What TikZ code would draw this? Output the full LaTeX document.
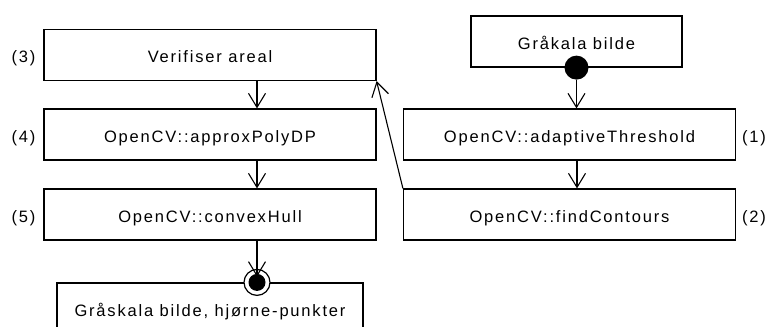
\documentclass[tikz,border=0pt]{standalone}
\usepackage{fontspec}
\setmainfont{Liberation Sans}[LetterSpace=11]
\usetikzlibrary{arrows.meta}
\begin{document}
\begin{tikzpicture}[x=1pt,y=-1pt,
  txt/.style={inner sep=0pt, font=\fontsize{16.5}{19}\selectfont,
              text height=15.5pt, text depth=0pt},
  box/.style={txt, draw, line width=1.2pt, minimum height=51pt},
  wide/.style={box, minimum width=332pt},
  flow/.style={line width=1.1pt, -{Straight Barb[length=14pt,width=17pt,line width=1.1pt]}}]
\clip (0,0) rectangle (772,327);

% left column
\node[wide] (ver) at (210,55)    {Verifiser areal};
\node[wide] (apx) at (210,134.5) {OpenCV::approxPolyDP};
\node[wide] (hul) at (210,214.5) {OpenCV::convexHull};
\node[box, minimum width=306pt] (out) at (210,308.5) {Gråskala bilde, hjørne-punkter};

% right column
\node[box, minimum width=211pt] (gray) at (576.5,41.5) {Gråkala bilde};
\node[wide] (thr)  at (569.5,134.5) {OpenCV::adaptiveThreshold};
\node[wide] (cont) at (569.5,214.5) {OpenCV::findContours};

% step numbers
\node[txt] (n3) at (23.5,55)    {(3)};
\node[txt] (n4) at (23.5,134.5) {(4)};
\node[txt] (n5) at (23.5,214.5) {(5)};
\node[txt] (n1) at (754,134.5) {(1)};
\node[txt] (n2) at (754,214.5) {(2)};

% start and end markers
\node[circle, fill, minimum size=24pt, inner sep=0pt] (start) at (gray.south) {};
\node[circle, draw, fill=white, line width=1.2pt, minimum size=26pt, inner sep=0pt]
  (endo) at ([xshift=47pt]out.north) {};
\node[circle, fill, minimum size=17pt, inner sep=0pt] (endi) at (endo.center) {};

% flow
\draw[flow] (start) -- (start |- thr.north);
\draw[flow] ([xshift=7.5pt]thr.south) -- ([xshift=7.5pt]cont.north);
\draw[flow] (cont.north west) -- (ver.south east);
\draw[flow] ([xshift=47pt]ver.south) -- ([xshift=47pt]apx.north);
\draw[flow] ([xshift=47pt]apx.south) -- ([xshift=47pt]hul.north);
\draw[flow] ([xshift=47pt]hul.south) -- ([yshift=-3pt]endi.north);
\end{tikzpicture}
\end{document}
